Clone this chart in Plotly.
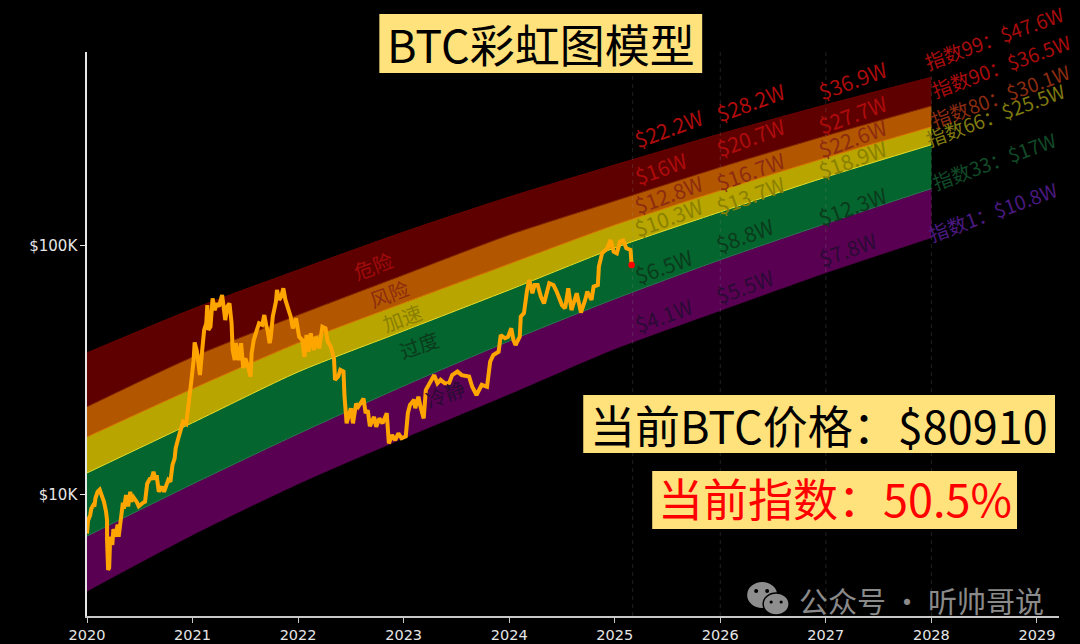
import plotly.graph_objects as go

# ---------- data ----------
band_years = [2020, 2021, 2022, 2023, 2024, 2025, 2026, 2027, 2028]
index_99 = [37200, 55800, 80100, 113800, 157300, 211500, 282000, 369000, 476000]
index_90 = [22600, 35800, 52800, 76500, 110700, 151600, 207000, 277000, 365000]
index_80 = [17100, 26700, 40800, 59000, 84700, 121400, 167000, 226000, 301000]
index_66 = [12260, 19500, 31200, 45600, 66600, 98200, 137000, 189000, 255000]
index_33 = [6840, 11070, 17600, 27400, 41500, 61300, 88000, 123000, 170000]
index_1 = [4110, 6910, 11070, 16900, 25400, 38600, 55000, 78000, 108000]

years_since_2020 = [0.00,0.01,0.03,0.04,0.06,0.07,0.08,0.10,0.12,0.13,0.15,0.16,0.18,0.19,0.19,0.20,0.21,0.22,0.22,0.24,0.25,0.27,0.29,0.30,0.32,0.33,0.34,0.35,0.37,0.39,0.41,0.42,0.44,0.47,0.49,0.53,0.55,0.57,0.60,0.61,0.63,0.65,0.66,0.68,0.71,0.73,0.75,0.77,0.79,0.81,0.83,0.84,0.87,0.89,0.91,0.94,0.95,0.97,0.99,1.01,1.02,1.04,1.06,1.07,1.09,1.11,1.13,1.14,1.15,1.17,1.19,1.21,1.23,1.25,1.28,1.30,1.31,1.33,1.35,1.37,1.38,1.40,1.41,1.44,1.46,1.48,1.50,1.52,1.55,1.56,1.58,1.61,1.63,1.66,1.68,1.70,1.71,1.73,1.74,1.76,1.79,1.80,1.82,1.84,1.86,1.88,1.90,1.93,1.95,1.98,2.01,2.04,2.06,2.08,2.10,2.12,2.15,2.17,2.20,2.23,2.26,2.28,2.31,2.34,2.35,2.38,2.40,2.43,2.44,2.45,2.46,2.50,2.52,2.55,2.57,2.62,2.64,2.66,2.68,2.72,2.74,2.77,2.80,2.84,2.86,2.89,2.92,2.95,2.98,3.02,3.04,3.06,3.10,3.11,3.14,3.16,3.19,3.21,3.25,3.29,3.32,3.35,3.39,3.43,3.46,3.51,3.55,3.62,3.65,3.69,3.74,3.79,3.82,3.85,3.90,3.92,3.96,3.99,4.02,4.04,4.06,4.10,4.11,4.14,4.17,4.19,4.22,4.24,4.27,4.30,4.33,4.36,4.38,4.42,4.45,4.50,4.53,4.56,4.59,4.64,4.68,4.72,4.74,4.78,4.80,4.84,4.85,4.88,4.93,4.96,4.99,5.02,5.05,5.08,5.11,5.15,5.16]
price_k = [7.0,7.9,8.3,8.8,9.1,9.0,9.7,10.3,10.5,10.2,9.6,9.4,8.6,7.9,6.6,5.0,5.1,6.2,6.8,6.3,7.3,6.8,7.6,6.8,7.8,8.7,9.3,8.8,10.0,9.0,10.3,9.4,9.8,9.4,9.0,9.3,9.4,11.1,11.7,11.5,12.4,11.5,12.0,10.3,10.8,10.3,10.8,11.5,11.3,13.2,14.0,15.4,17.2,18.2,19.7,19.3,21.3,24.8,29.0,34.8,41.0,38.0,30.8,30.3,37.6,46.0,48.9,57.9,46.0,47.4,61.6,55.3,58.8,57.1,63.6,56.2,50.4,57.1,58.8,48.9,38.2,34.8,40.7,34.8,40.7,32.3,35.4,33.3,29.9,37.1,41.9,46.0,48.9,48.2,52.8,47.4,46.0,40.7,42.6,52.0,59.8,66.6,60.7,62.6,67.6,60.7,57.1,52.0,46.7,51.2,43.2,41.9,35.9,43.9,37.6,44.6,38.2,43.2,38.8,47.4,46.7,41.3,39.4,35.4,29.0,29.9,31.8,31.3,24.8,21.6,19.4,22.3,19.4,23.3,22.6,24.4,21.3,21.9,18.9,20.6,18.8,20.3,19.4,21.3,16.1,17.4,16.6,17.7,16.9,17.2,21.3,23.0,24.1,22.3,24.8,22.6,20.3,26.4,28.5,30.3,28.1,29.0,28.1,28.1,30.3,31.3,30.3,29.9,27.2,25.2,27.7,27.2,34.3,36.5,37.6,43.9,42.6,43.2,46.7,41.9,40.0,43.2,52.0,53.7,66.6,73.0,64.6,69.7,69.7,62.6,58.8,64.6,70.8,69.7,65.6,57.9,56.2,67.6,55.3,64.6,54.0,60.7,65.6,60.7,68.7,69.7,82.6,93.4,97.9,105.7,94.9,93.4,104.1,105.1,97.9,96.4,83.9]

guide_years = [2025.17, 2026, 2027, 2028]
x_ticks = [2020, 2021, 2022, 2023, 2024, 2025, 2026, 2027, 2028, 2029]
y_ticks = [10000, 100000]
y_tick_labels = ["$10K", "$100K"]

column_2025 = ["$22.2W", "$16W", "$12.8W", "$10.3W", "$6.5W", "$4.1W"]
column_2026 = ["$28.2W", "$20.7W", "$16.7W", "$13.7W", "$8.8W", "$5.5W"]
column_2027 = ["$36.9W", "$27.7W", "$22.6W", "$18.9W", "$12.3W", "$7.8W"]
column_2028 = ["指数99：$47.6W", "指数90：$36.5W", "指数80：$30.1W", "指数66：$25.5W", "指数33：$17W", "指数1：$10.8W"]
zone_names = ["危险", "风险", "加速", "过度", "冷静"]

# ---------- layout helpers ----------
W, H = 1080, 644
L, R, T, B = 86.5, 1059, 52, 616
def px(x): return (x - L) / (R - L)
def py(y): return (B - y) / (B - T)

CJK = "Noto Sans CJK SC"
BOX = "#FFE27C"

fig = go.Figure()

FILLS = ["#5A0052", "#04652E", "#B8A500", "#B35600", "#5E0000"]
EDGES = ["#2A7A50", "#E6E22C", "#E07A00", "#8A2A00", "#6A0000"]
bands = [index_33, index_66, index_80, index_90, index_99]
fig.add_trace(go.Scatter(x=band_years, y=index_1, mode="lines", line=dict(color="#5A0052", width=0.5, shape="spline", smoothing=0.7), showlegend=False))
for vals, fc, ec in zip(bands, FILLS, EDGES):
    fig.add_trace(go.Scatter(x=band_years, y=vals, mode="lines", fill="tonexty", fillcolor=fc,
                             line=dict(color=ec, width=1, shape="spline", smoothing=0.7), showlegend=False))

for gx in guide_years:
    fig.add_trace(go.Scatter(x=[gx, gx], y=[10**3.514, 10**5.779], mode="lines",
                             line=dict(color="rgba(150,150,150,0.22)", width=1, dash="4px,4px"), showlegend=False))

years = [2020 + v for v in years_since_2020]
prices = [v * 1000 for v in price_k]
fig.add_trace(go.Scatter(x=years, y=prices, mode="lines", line=dict(color="#FFA500", width=4), showlegend=False))
fig.add_trace(go.Scatter(x=years[-1:], y=prices[-1:], mode="markers", marker=dict(color="#FF0000", size=6.5), showlegend=False))

def rot(text, x, y, color, size=21):
    fig.add_annotation(text=text, x=px(x), y=py(y), xref="paper", yref="paper", showarrow=False,
                       textangle=-20, xanchor="center", yanchor="middle",
                       font=dict(family=CJK, size=size, color=color))

RED, RUST, OLIVE, DGREEN, DPURP = "#AE0C0C", "#8C2C10", "#8A8000", "#0B3A1C", "#2B0A35"
col_colors = [RED, RED, RUST, OLIVE, DGREEN, DPURP]
for t, (x, y), c in zip(column_2025, [(668,128),(660,168),(668,194),(668,217),(663,266),(663,315)], col_colors):
    rot(t, x, y, c)
for t, (x, y), c in zip(column_2026, [(750,102),(750,137),(750,171),(750,195),(744,235),(744,286)], col_colors):
    rot(t, x, y, c)
for t, (x, y), c in zip(column_2027, [(852,80),(852,114),(852,138),(852,159),(852,206),(847,249)], col_colors):
    rot(t, x, y, c)
for t, (x, y), c in zip(column_2028, [(994,38),(1001,66),(1000,95),(995,114),(994,160),(992,211)],
                        ["#A80C0C", "#A80C0C", "#8C2C10", "#7F7A10", "#114A28", "#4B1A80"]):
    rot(t, x, y, c, size=19.5)
for t, (x, y), c in zip(zone_names, [(373,265),(389,293),(402,317),(419,345),(445,393)],
                        ["#A00C0C", "#8C2C10", "#8A8000", "#0B3A1C", "#2B0A35"]):
    rot(t, x, y, c, size=20)

def box(text, x0, x1, y0, y1, color, size, text_y):
    fig.add_shape(type="rect", xref="paper", yref="paper", x0=px(x0), x1=px(x1), y0=py(y0), y1=py(y1),
                  fillcolor=BOX, line=dict(width=0), layer="above")
    fig.add_annotation(text=text, x=px((x0+x1)/2), y=py(text_y), xref="paper", yref="paper", showarrow=False,
                       xanchor="center", yanchor="middle", font=dict(family=CJK, size=size, color=color))

box("BTC彩虹图模型", 379, 702, 14, 73, "#000000", 45, 43)
box("当前BTC价格：$80910", 583, 1055, 395, 453, "#000000", 45, 424)
box("当前指数：50.5%", 652, 1017, 471, 529, "#FF0000", 45, 497)

# watermark
fig.add_annotation(text="公众号 · 听帅哥说", x=px(921), y=py(600), xref="paper", yref="paper", showarrow=False,
                   xanchor="center", yanchor="middle", font=dict(family=CJK, size=29, color="#8A8A8A"))
GRAY = "#8E8E8E"
def ell(cx, cy, rx, ry, fc, lc=None, lw=0):
    fig.add_shape(type="circle", xref="paper", yref="paper", x0=px(cx-rx), x1=px(cx+rx), y0=py(cy+ry), y1=py(cy-ry),
                  fillcolor=fc, line=dict(width=lw, color=lc or fc), layer="above")
ell(762, 595, 15, 13, GRAY)
ell(776, 604, 13, 11, GRAY, "#000000", 1.5)
for cx, cy, r, fc in [(756, 591, 2, "#000000"), (767, 591, 2, "#000000"), (771, 602, 1.6, "#000000"), (781, 602, 1.6, "#000000")]:
    ell(cx, cy, r, r, fc)

fig.update_layout(
    width=W, height=H, autosize=False,
    margin=dict(l=L, r=W-R, t=T, b=H-B, pad=0),
    paper_bgcolor="#000000", plot_bgcolor="#000000", showlegend=False,
    font=dict(family="DejaVu Sans", size=14, color="#E6E6E6"),
    xaxis=dict(automargin=False, range=[2020, 2020 + (R - L) / 105.6], tickmode="array", tickvals=x_ticks, ticktext=[str(v) for v in x_ticks],
               showgrid=False, zeroline=False, showline=True, linecolor="#C8C8C8", linewidth=1.5,
               ticks="outside", ticklen=5, tickwidth=1, tickcolor="#C8C8C8", tickfont=dict(family="DejaVu Sans", size=14.5, color="#E6E6E6")),
    yaxis=dict(automargin=False, type="log", range=[3.514, 5.779], tickmode="array", tickvals=y_ticks, ticktext=y_tick_labels,
               showgrid=False, zeroline=False, showline=True, linecolor="#E6E6E6", linewidth=1.5,
               ticks="outside", ticklen=5, tickwidth=1, tickcolor="#E6E6E6", tickfont=dict(family="DejaVu Sans", size=15, color="#E6E6E6")),
)
fig.write_html("out.html", config=dict(displayModeBar=False),
               post_script="document.body.style.margin='0';document.body.style.background='#000';document.body.style.overflow='hidden';")
